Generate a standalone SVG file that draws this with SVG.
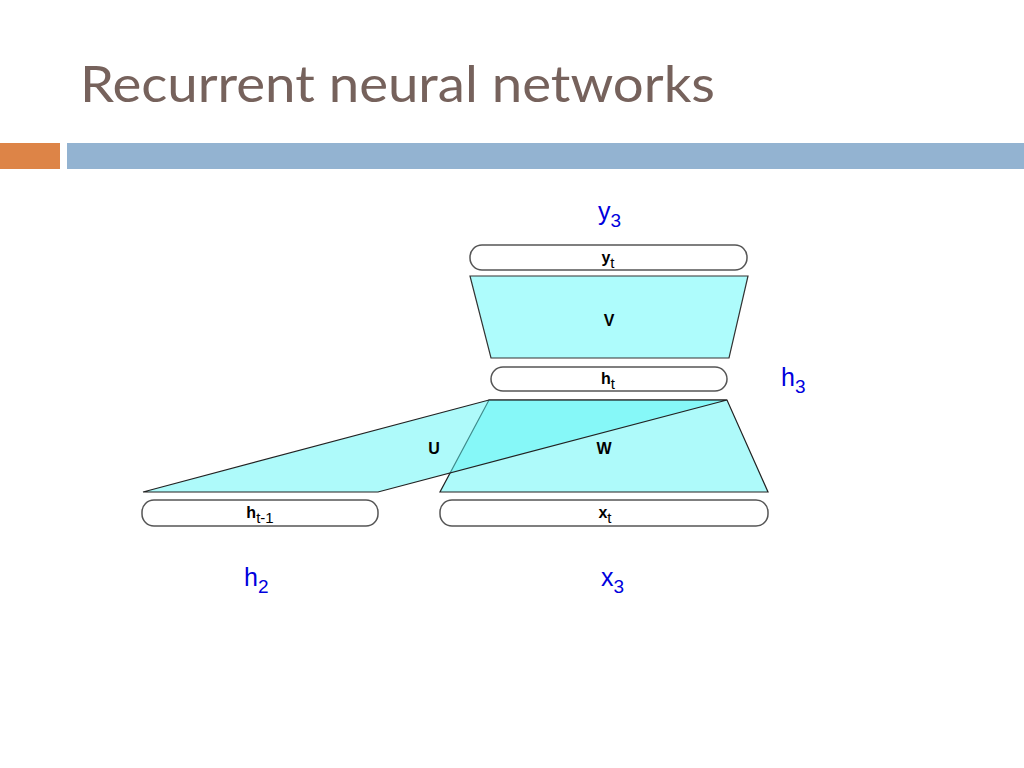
<svg xmlns="http://www.w3.org/2000/svg" width="1024" height="768" viewBox="0 0 1024 768">
<style>
.title{font-family:"Lato","Open Sans",sans-serif;font-size:51px;fill:#76625c}
.box{fill:#ffffff;stroke:#555555;stroke-width:1.5}
.w{fill:#5ef5f5;fill-opacity:0.5;stroke:#222222;stroke-width:1.2}
.v{fill:#aefcfc;stroke:#333333;stroke-width:1.2}
.lbl{font-family:"Liberation Sans",Arial,sans-serif;font-size:16px;font-weight:bold;fill:#000000;text-anchor:middle}
.sub{font-size:15px;font-weight:normal}
.blue{font-family:"Liberation Sans",Arial,sans-serif;font-size:25px;fill:#0000dd}
.bsub{font-size:19px}
</style>
<rect width="1024" height="768" fill="#ffffff"/>
<text class="title" x="80" y="102" textLength="635" lengthAdjust="spacingAndGlyphs">Recurrent neural networks</text>
<rect x="0" y="143" width="60" height="26" fill="#dd8447"/>
<rect x="67" y="143" width="957" height="26" fill="#93b3d1"/>
<g id="connectors">
<polygon id="V" class="v" points="470,276 748,276 729,358 491,358"/>
<polygon id="W" class="w" points="489,400 727,400 768,492 440,492"/>
<polygon id="U" class="w" points="143,492 489,400 727,400 378,492"/>
<text class="lbl" x="609" y="326">V</text>
<text class="lbl" x="434" y="454">U</text>
<text class="lbl" x="604" y="454">W</text>
</g>
<g id="yt"><rect class="box" x="470" y="245" width="277" height="25" rx="12"/><text class="lbl" x="608" y="263">y<tspan class="sub" dy="5">t</tspan></text></g>
<g id="ht"><rect class="box" x="491" y="367" width="236" height="24" rx="12"/><text class="lbl" x="608" y="384">h<tspan class="sub" dy="5">t</tspan></text></g>
<g id="htm1"><rect class="box" x="142" y="500" width="236" height="26" rx="12"/><text class="lbl" x="260" y="518">h<tspan class="sub" dy="5">t-1</tspan></text></g>
<g id="xt"><rect class="box" x="440" y="500" width="328" height="26" rx="12"/><text class="lbl" x="605" y="518">x<tspan class="sub" dy="5">t</tspan></text></g>
<g id="y3"><text class="blue" x="598" y="220">y<tspan class="bsub" dy="7">3</tspan></text></g>
<g id="h3"><text class="blue" x="781" y="386">h<tspan class="bsub" dy="7">3</tspan></text></g>
<g id="h2"><text class="blue" x="244" y="586">h<tspan class="bsub" dy="7">2</tspan></text></g>
<g id="x3"><text class="blue" x="601" y="586">x<tspan class="bsub" dy="7">3</tspan></text></g>
</svg>
